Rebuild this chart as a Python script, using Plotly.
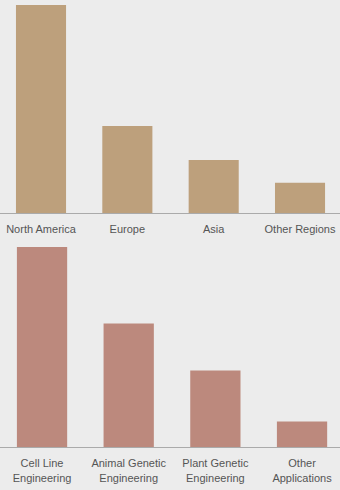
import plotly.graph_objects as go

regions = ["North America", "Europe", "Asia", "Other Regions"]
region_share = [55, 23, 14, 8]

applications = ["Cell Line<br>Engineering", "Animal Genetic<br>Engineering",
                "Plant Genetic<br>Engineering", "Other<br>Applications"]
application_share = [47, 29, 18, 6]

W, H = 340, 490
BG = "#ececec"

fig = go.Figure()
fig.add_trace(go.Bar(x=list(range(len(regions))), y=region_share,
                     marker=dict(color="#bda07c", line=dict(width=0)),
                     width=0.58, xaxis="x", yaxis="y", hoverinfo="skip"))
fig.add_trace(go.Bar(x=list(range(len(applications))), y=application_share,
                     marker=dict(color="#bc897d", line=dict(width=0)),
                     width=0.58, xaxis="x2", yaxis="y2", hoverinfo="skip"))

axis_common = dict(showline=True, linecolor="#aaaaaa", linewidth=1,
                   showgrid=False, zeroline=False,
                   ticks="outside", ticklen=6, tickcolor="rgba(0,0,0,0)",
                   tickfont=dict(family="Arial, Liberation Sans", size=11, color="#555555"),
                   tickmode="array", fixedrange=True)

fig.update_layout(
    width=W, height=H,
    margin=dict(l=0, r=0, t=0, b=0),
    paper_bgcolor=BG, plot_bgcolor=BG,
    showlegend=False,
    xaxis=dict(**axis_common, domain=[0, 1], anchor="y",
               tickvals=list(range(len(regions))), ticktext=regions,
               range=[-0.475, 3.463]),
    yaxis=dict(domain=[(H - 213) / H, 1], anchor="x", visible=False,
               range=[0, max(region_share) * 213 / 208], fixedrange=True),
    xaxis2=dict(**axis_common, domain=[0, 1], anchor="y2",
                tickvals=list(range(len(applications))), ticktext=applications,
                range=[-0.485, 3.438]),
    yaxis2=dict(domain=[(H - 447) / H, (H - 240) / H], anchor="x2", visible=False,
                range=[0, max(application_share) * 207 / 200], fixedrange=True),
)

fig.write_html("out.html", config={"displayModeBar": False},
               post_script="document.body.style.margin='0';document.body.style.overflow='hidden';")
